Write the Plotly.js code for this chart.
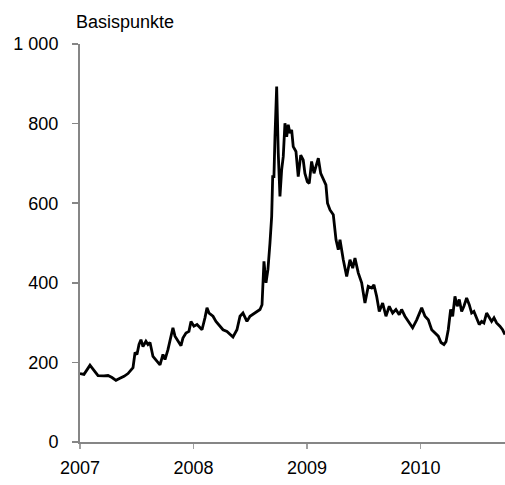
<!DOCTYPE html>
<html>
<head>
<meta charset="utf-8">
<script src="https://cdn.plot.ly/plotly-3.0.1.min.js"></script>
<style>html,body{margin:0;padding:0;background:#fff;}#chart{width:505px;height:485px;}</style>
</head>
<body>
<div id="chart"></div>
<script>
// Decimal year of each observation
const years = [
2007.000,2007.035,2007.070,2007.088,2007.123,2007.159,2007.211,2007.247,2007.282,2007.317,
2007.352,2007.388,2007.423,2007.441,2007.467,2007.485,2007.502,2007.520,2007.537,2007.555,
2007.581,2007.599,2007.617,2007.643,2007.670,2007.705,2007.731,2007.749,2007.775,2007.802,
2007.819,2007.837,2007.863,2007.890,2007.907,2007.934,2007.960,2007.978,2008.004,2008.031,
2008.048,2008.075,2008.101,2008.119,2008.137,2008.172,2008.198,2008.233,2008.260,2008.295,
2008.322,2008.348,2008.383,2008.410,2008.436,2008.471,2008.498,2008.542,2008.586,2008.604,
2008.621,2008.639,2008.656,2008.674,2008.689,2008.698,2008.709,2008.718,2008.733,2008.747,
2008.762,2008.777,2008.791,2008.806,2008.821,2008.835,2008.850,2008.865,2008.879,2008.903,
2008.923,2008.945,2008.967,2008.982,2009.003,2009.020,2009.041,2009.062,2009.079,2009.100,
2009.121,2009.144,2009.167,2009.181,2009.203,2009.232,2009.256,2009.276,2009.291,2009.320,
2009.350,2009.379,2009.403,2009.423,2009.452,2009.482,2009.511,2009.540,2009.570,2009.590,
2009.614,2009.637,2009.667,2009.696,2009.725,2009.755,2009.784,2009.813,2009.834,2009.863,
2009.893,2009.931,2009.967,2010.011,2010.040,2010.069,2010.099,2010.128,2010.157,2010.181,
2010.207,2010.225,2010.245,2010.266,2010.284,2010.304,2010.324,2010.342,2010.363,2010.383,
2010.407,2010.430,2010.451,2010.471,2010.495,2010.518,2010.539,2010.559,2010.583,2010.606,
2010.627,2010.648,2010.671,2010.700,2010.724,2010.745
];
// Spread in basis points
const basisPoints = [
172,170,185,193,180,167,166,167,162,155,
160,165,172,178,187,225,220,245,257,240,
253,245,250,215,207,194,220,207,232,266,
287,266,253,242,261,274,278,303,291,295,
290,282,312,337,324,316,303,291,282,278,
270,264,282,316,324,303,316,324,333,345,
454,400,433,500,567,667,667,767,893,726,
617,684,717,801,767,797,776,784,742,730,
667,721,709,675,654,650,705,675,692,713,
675,659,646,600,583,571,508,483,508,458,
416,458,437,462,425,400,349,391,387,395,
366,328,349,316,341,324,333,320,333,316,
303,287,307,337,316,307,282,274,266,250,
245,252,282,333,316,366,341,358,328,341,
362,345,324,328,312,295,303,299,324,312,
303,312,299,291,282,270
];
const yTickVals = [0,200,400,600,800,1000];
const yTickText = ["0","200","400","600","800","1 000"];
const xTickVals = [2007,2008,2009,2010];
const xTickText = ["2007","2008","2009","2010"];
const unitLabel = "Basispunkte";

const font = {family:"Liberation Sans, Arial, sans-serif", size:18, color:"#000"};
Plotly.newPlot("chart", [{
  x: years, y: basisPoints, type:"scatter", mode:"lines",
  line:{color:"#000", width:2.8}, hoverinfo:"skip"
}], {
  width:505, height:485,
  margin:{l:80, r:0, t:44, b:43},
  paper_bgcolor:"#fff", plot_bgcolor:"#fff",
  showlegend:false,
  font: font,
  xaxis:{
    range:[2007, 2010.745], tickmode:"array", tickvals:xTickVals, ticktext:xTickText,
    showgrid:false, zeroline:false, showline:true, linecolor:"#868686", linewidth:2,
    ticks:"outside", ticklen:5, tickwidth:1.5, tickcolor:"#a0a0a0",
    tickfont:font, ticklabelstandoff:3
  },
  yaxis:{
    range:[0,1000], tickmode:"array", tickvals:yTickVals, ticktext:yTickText,
    showgrid:false, zeroline:false, showline:true, linecolor:"#868686", linewidth:2,
    ticks:"outside", ticklen:6, tickwidth:1.5, tickcolor:"#868686",
    tickfont:font, ticklabelstandoff:10
  },
  annotations:[{
    text:unitLabel, xref:"paper", yref:"paper", x:-0.014, y:1.055,
    xanchor:"left", yanchor:"middle", showarrow:false, font:font
  }]
}, {staticPlot:true});
</script>
</body>
</html>
